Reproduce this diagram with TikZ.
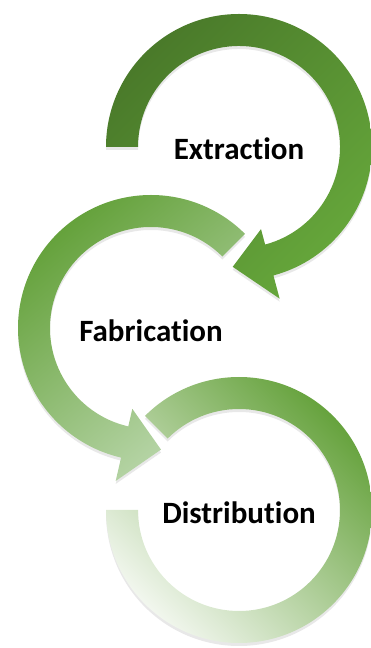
\documentclass[tikz,border=0pt]{standalone}
\usepackage{fontspec}
\setmainfont{Carlito}[Ligatures={NoCommon}]
\usetikzlibrary{shadows}

\definecolor{leafdark}{HTML}{4A7A2A}
\definecolor{leaf}{HTML}{66A73B}
\definecolor{leafmid}{HTML}{5F9E34}
\definecolor{leaflight}{HTML}{BCD8AE}
\definecolor{leafpale}{HTML}{F4F8F1}

\begin{document}
\begin{tikzpicture}[x=1pt,y=1pt,
    ring/.style={drop shadow={opacity=0.18,shadow xshift=0pt,shadow yshift=-3pt}},
    steptext/.style={font=\bfseries\fontsize{31}{34}\selectfont,text=black,inner sep=0pt}]
            \useasboundingbox (0,0) rectangle (371,648);
            \coordinate (c1) at (239,501);
            \coordinate (c2) at (151,320);
            \coordinate (c3) at (239,138);
            \shade[ring,shift={(c1)},top color=leafdark,bottom color=leaf,shading angle=45]
            (180:133) arc[start angle=180,end angle=-75,radius=133] -- (-75:157) --
            (-93:120) -- (-75:85) -- (-75:101) arc[start angle=-75,end angle=180,radius=101] -- cycle;
            \shade[ring,shift={(c2)},top color=leafmid,middle color=leaf!88!white,
            bottom color=leaflight,shading angle=40]
            (45:133) arc[start angle=45,end angle=257,radius=133] -- (257:157) --
            (274.7:122) -- (257:83) -- (257:101) arc[start angle=257,end angle=45,radius=101] -- cycle;
            \shade[ring,shift={(c3)},top color=leafmid,middle color=leaf!68!white,
            bottom color=leafpale,shading angle=-45]
            (135:133) arc[start angle=135,end angle=-180,radius=133] -- (-180:101)
            arc[start angle=-180,end angle=135,radius=101] -- cycle;
            \node[steptext] (extraction) at ([yshift=-2pt]c1) {Extraction};
            \node[steptext] (fabrication) at ([yshift=-3pt]c2) {Fabrication};
            \node[steptext] (distribution) at ([yshift=-3pt]c3) {Distribution};
        \end{tikzpicture}
\end{document}
